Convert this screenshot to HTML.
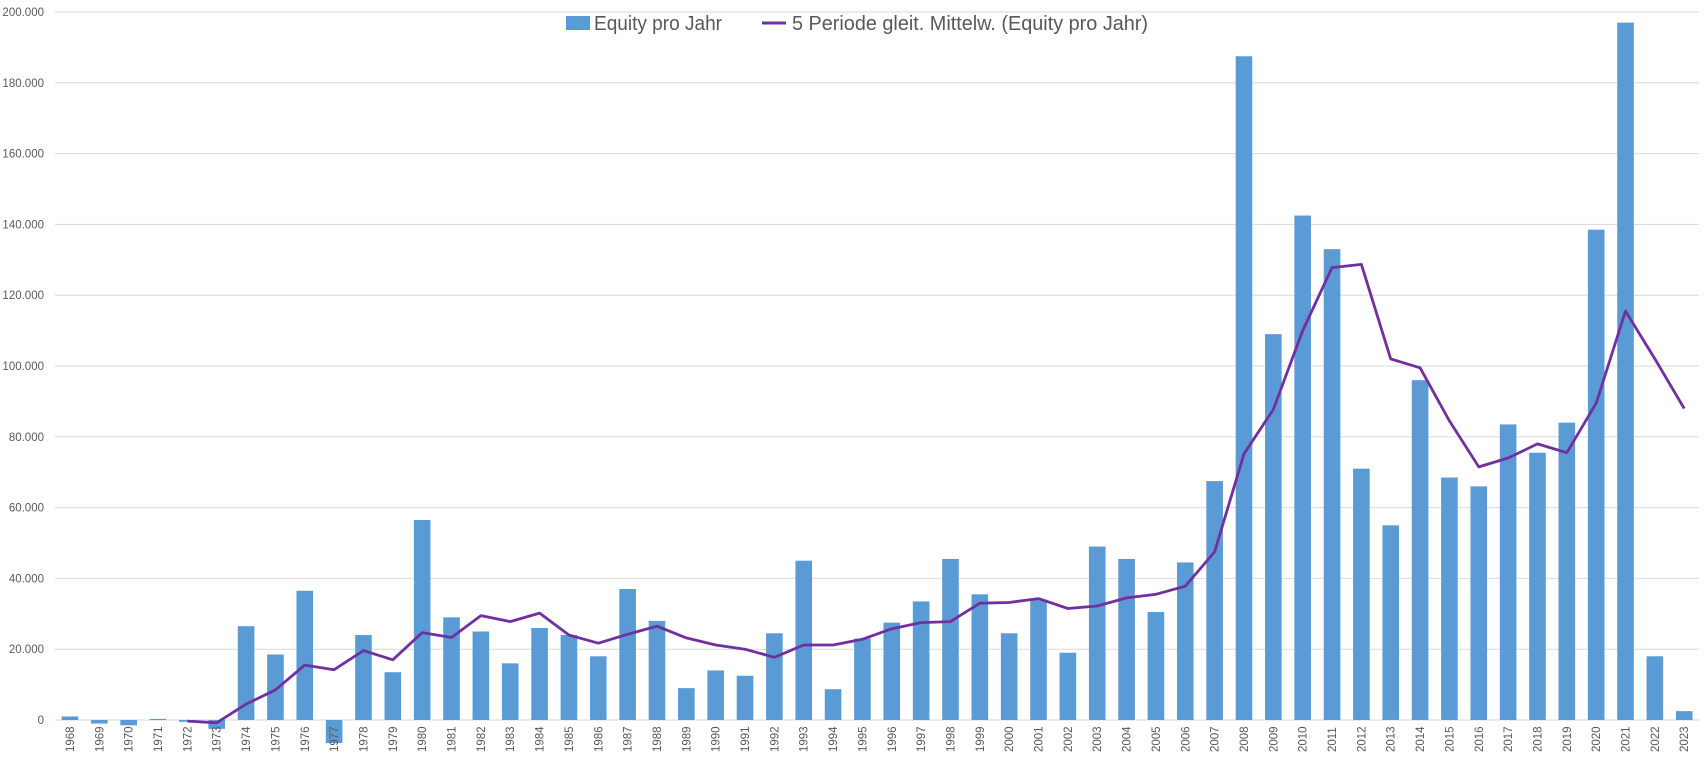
<!DOCTYPE html>
<html><head><meta charset="utf-8"><style>
html,body{margin:0;padding:0;background:#fff;width:1708px;height:768px;overflow:hidden}
svg{display:block}
text{font-family:"Liberation Sans",sans-serif;fill:#595959}
</style></head><body>
<svg id="c" width="1708" height="768" xmlns="http://www.w3.org/2000/svg"></svg>
<script>
var bars=[1000,-1000,-1500,300,-500,-2500,26500,18500,36500,-6500,24000,13500,56500,29000,25000,16000,26000,24000,18000,37000,28000,9000,14000,12500,24500,45000,8700,23000,27500,33500,45500,35500,24500,34000,19000,49000,45500,30500,44500,67500,187500,109000,142500,133000,71000,55000,96000,68500,66000,83500,75500,84000,138500,197000,18000,2500];
var ma=[null,null,null,null,-300,-800,4500,8500,15500,14200,19600,17000,24700,23300,29500,27800,30200,24000,21700,24200,26500,23200,21200,20000,17700,21200,21200,22800,25800,27500,27800,33000,33200,34300,31500,32200,34500,35500,37800,47500,75200,87700,110000,127800,128700,102000,99500,84500,71500,74000,78000,75500,89500,115500,102000,88000];
var L=55.3,W=29.35,Y0=720,K=3.54/1000;
function y(v){return Y0-v*K}
var s='';
for(var i=0;i<=10;i++){var gy=y(i*20000);s+='<line x1="55" x2="1699" y1="'+gy+'" y2="'+gy+'" stroke="#d9d9d9" stroke-width="1"/>';
var lab=i==0?'0':(i*20)+'.000';s+='<text x="44" y="'+(gy+4)+'" font-size="11.5" text-anchor="end">'+lab+'</text>';}
for(var i=0;i<bars.length;i++){var cx=L+W*(i+0.5),v=bars[i],t=Math.min(y(v),Y0),h=Math.abs(y(v)-Y0);
s+='<rect x="'+(cx-8.3)+'" y="'+t+'" width="16.6" height="'+h+'" fill="#5b9bd5"/>';
s+='<text transform="translate('+(cx+4)+',752) rotate(-90)" font-size="11.5">'+(1968+i)+'</text>';}
var p='';for(var i=0;i<ma.length;i++){if(ma[i]===null)continue;p+=(p?' L':'M')+(L+W*(i+0.5)).toFixed(1)+' '+y(ma[i]).toFixed(1);}
s+='<path d="'+p+'" fill="none" stroke="#7030a0" stroke-width="2.8" stroke-linejoin="round"/>';
s+='<rect x="566" y="16" width="24" height="14" fill="#5b9bd5"/>';
s+='<text x="594" y="30" font-size="20" textLength="128" lengthAdjust="spacingAndGlyphs">Equity pro Jahr</text>';
s+='<line x1="762" x2="786" y1="23" y2="23" stroke="#7030a0" stroke-width="3"/>';
s+='<text x="792" y="30" font-size="20" textLength="356" lengthAdjust="spacingAndGlyphs">5 Periode gleit. Mittelw. (Equity pro Jahr)</text>';
document.getElementById('c').innerHTML=s;
</script>
</body></html>
